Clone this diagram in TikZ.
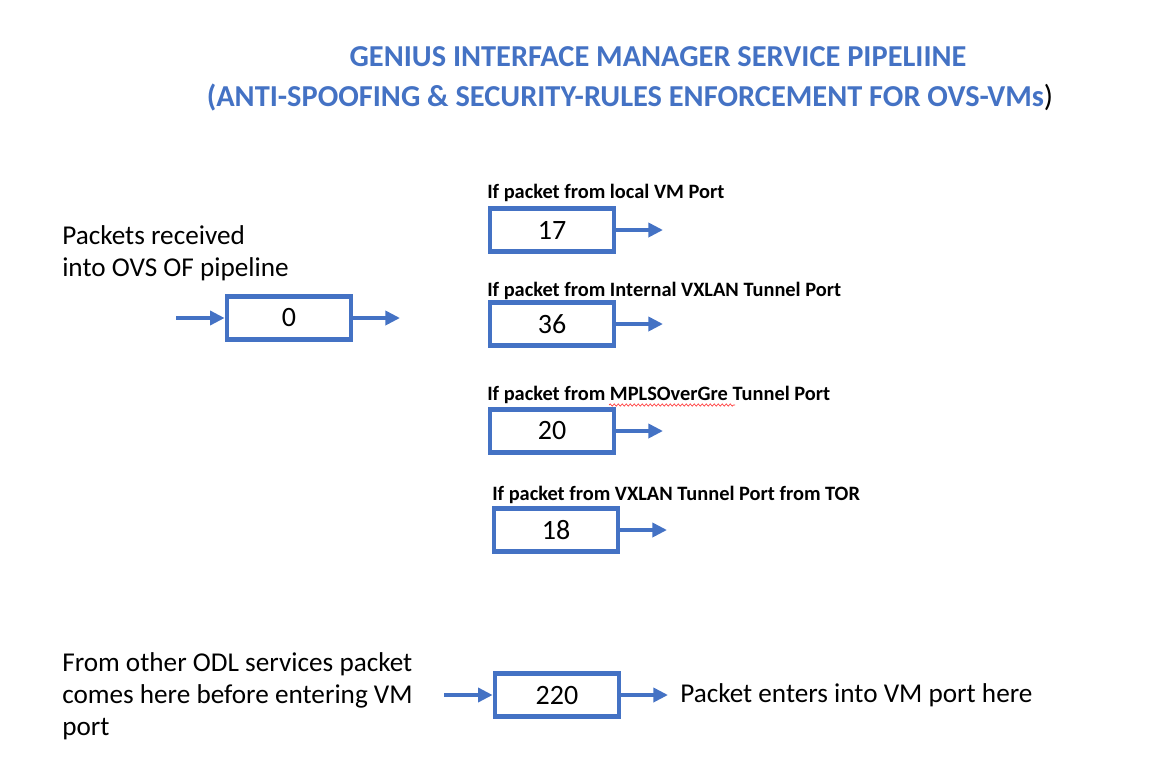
\documentclass[tikz,border=0pt]{standalone}
\usepackage{fontspec}
\setmainfont{Carlito}
\usepackage{xcolor}
\usetikzlibrary{arrows.meta, positioning, decorations.pathmorphing}
\definecolor{ofblue}{HTML}{4472C4}
\tikzset{
    tablebox/.style={
        rectangle,
        draw=ofblue,
        line width=3.5pt,
        minimum width=93pt,
        minimum height=32pt,
        inner sep=0pt,
        fill=white,
        font=\fontsize{21}{24}\selectfont
    },
    flow/.style={
        draw=ofblue,
        line width=3pt,
        -{Triangle[length=11pt,width=10.5pt]}
    },
    note/.style={
        font=\fontsize{20.4}{24}\selectfont,
        align=left,
        inner sep=0pt,
        anchor=base west
    },
    cond/.style={
        font=\bfseries\fontsize{15.3}{18}\selectfont,
        inner sep=0pt,
        anchor=base west
    },
    heading/.style={
        font=\bfseries\fontsize{22.8}{27}\selectfont,
        text=ofblue,
        inner sep=0pt,
        anchor=base
    }
}

\begin{document}
\begin{tikzpicture}[x=0.75pt, y=-0.75pt]
\useasboundingbox (0,0) rectangle (1156,768);

% Title
\node[heading] (title1) at (658,66) {GENIUS INTERFACE MANAGER SERVICE PIPELIINE};
\node[heading] (title2) at (630,106) {(ANTI-SPOOFING \& SECURITY-RULES ENFORCEMENT FOR OVS-VMs{\color{black}\mdseries)}};

% Table 0
\node[note] (intext) at (62,276) {Packets received\\into OVS OF pipeline};
\node[tablebox] (t0) at (289,318) {0};
\coordinate (in0) at (176,318);
\coordinate (out0) at (400,318);
\draw[flow] (in0) -- (t0);
\draw[flow] (t0) -- (out0);

% Dispatch tables
\node[tablebox] (t17) at (552,230) {17};
\node[tablebox] (t36) at (552,324) {36};
\node[tablebox] (t20) at (552,431) {20};
\node[tablebox] (t18) at (556,530) {18};

\node[cond] (c17) at (487,198) {If packet from local VM Port};
\node[cond] (c36) at (487,296) {If packet from Internal VXLAN Tunnel Port};
\node[cond] (c20) at (487,400) {If packet from MPLSOverGre Tunnel Port};
\node[cond] (c18) at (492,500) {If packet from VXLAN Tunnel Port from TOR};
\draw[red!80, line width=0.5pt, decorate, decoration={snake, amplitude=0.8pt, segment length=3pt}]
    (609,405) -- (735,405);

\coordinate (e17) at (663,230);
\coordinate (e36) at (663,324);
\coordinate (e20) at (663,431);
\coordinate (e18) at (667,530);
\draw[flow] (t17) -- (e17);
\draw[flow] (t36) -- (e36);
\draw[flow] (t20) -- (e20);
\draw[flow] (t18) -- (e18);

% Egress table
\node[note] (fromtext) at (62,735) {From other ODL services packet\\comes here before entering VM\\port};
\node[tablebox] (t220) at (557,695) {220};
\coordinate (in220) at (444,695);
\coordinate (e220) at (668,695);
\draw[flow] (in220) -- (t220);
\draw[flow] (t220) -- (e220);
\node[note, anchor=west] (vmtext) at (680,695) {Packet enters into VM port here};

\end{tikzpicture}
\end{document}
